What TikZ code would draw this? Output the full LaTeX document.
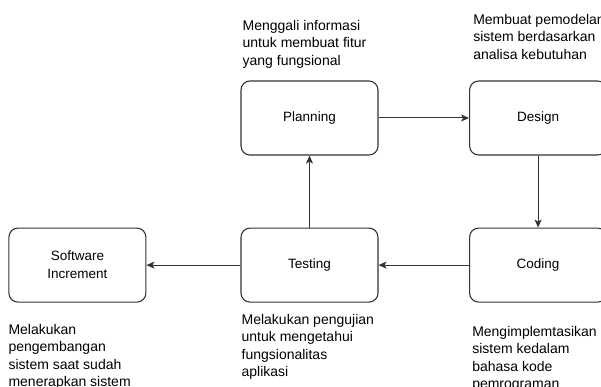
\documentclass[tikz,border=0pt]{standalone}
\usepackage{fontspec}
\setmainfont{Liberation Sans}
\usetikzlibrary{positioning, arrows.meta}

\begin{document}
\begin{tikzpicture}[
    x=1pt, y=1pt,
    phase/.style={draw=black!80, line width=1.1pt, rounded corners=9pt, minimum width=137pt, minimum height=74pt, align=center, font=\fontsize{13.5}{18}\selectfont},
    note/.style={align=left, inner sep=0pt, anchor=north west, font=\fontsize{14}{17.4}\selectfont},
    flow/.style={draw=black!80, line width=1pt, -{Stealth[length=8pt, width=7pt, inset=2pt]}}
]
\useasboundingbox (0,0) rectangle (601,387);

% Kotak tahapan
\node[phase] (plan) at (309.5, 269) {Planning};
\node[phase, right=90.5pt of plan] (design) {Design};
\node[phase, below=72pt of plan] (test) {Testing};
\node[phase, right=90.5pt of test] (coding) {Coding};
\node[phase, left=94pt of test] (incr) {Software\\Increment};

% Keterangan
\node[note] (plannote) at ([shift={(2,60.5)}]plan.north west) {Menggali informasi\\untuk membuat fitur\\yang fungsional};
\node[note] (designnote) at ([shift={(4,66.5)}]design.north west) {Membuat pemodelan\\sistem berdasarkan\\analisa kebutuhan};
\node[note] (testnote) at ([shift={(1,-11.5)}]test.south west) {Melakukan pengujian\\untuk mengetahui\\fungsionalitas\\aplikasi};
\node[note] (codingnote) at ([shift={(3,-23.5)}]coding.south west) {Mengimplemtasikan\\sistem kedalam\\bahasa kode\\pemrograman};
\node[note] (incrnote) at ([shift={(0,-21.5)}]incr.south west) {Melakukan\\pengembangan\\sistem saat sudah\\menerapkan sistem};

% Panah alur
\draw[flow] (plan) -- (design);
\draw[flow] (design) -- (coding);
\draw[flow] (coding) -- (test);
\draw[flow] (test) -- (plan);
\draw[flow] (test) -- (incr);

\end{tikzpicture}
\end{document}
